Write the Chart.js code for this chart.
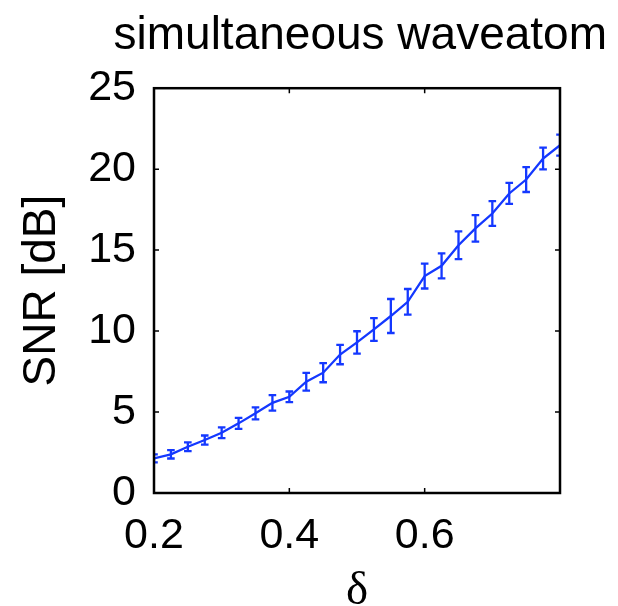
<!DOCTYPE html>
<html>
<head>
<meta charset="utf-8">
<script src="https://cdn.jsdelivr.net/npm/chart.js@4.4.1/dist/chart.umd.min.js"></script>
<style>
  body { margin: 0; background: #fff; }
  #wrap { width: 618px; height: 606px; }
</style>
</head>
<body>
<div id="wrap"><canvas id="snr" width="618" height="606"></canvas></div>
<script>
const delta = [0.2, 0.225, 0.25, 0.275, 0.3, 0.325, 0.35, 0.375, 0.4, 0.425, 0.45, 0.475,
               0.5, 0.525, 0.55, 0.575, 0.6, 0.625, 0.65, 0.675, 0.7, 0.725, 0.75, 0.775, 0.8]
const snr = [2.14, 2.39, 2.86, 3.27, 3.72, 4.30, 4.92, 5.57, 5.94, 6.87, 7.43, 8.55,
             9.30, 10.1, 10.93, 11.81, 13.4, 14.03, 15.3, 16.34, 17.26, 18.5, 19.36, 20.66, 21.48]
const snrErr = [0.25, 0.26, 0.27, 0.28, 0.33, 0.34, 0.37, 0.48, 0.33, 0.55, 0.59, 0.6,
                0.69, 0.7, 1.05, 0.79, 0.77, 0.77, 0.86, 0.82, 0.76, 0.65, 0.77, 0.67, 0.65]
const xTicks = [0.2, 0.4, 0.6]
const yTicks = [0, 5, 10, 15, 20, 25]

const blue = '#1438ff'

// matlab style box + inward ticks, and the error bars
const matlabAxes = {
  id: 'matlabAxes',
  afterDatasetsDraw(chart) {
    const ctx = chart.ctx
    const a = chart.chartArea
    const xs = chart.scales.x, ys = chart.scales.y
    ctx.save()
    ctx.beginPath()
    ctx.rect(a.left, a.top, a.right - a.left, a.bottom - a.top)
    ctx.clip()
    ctx.strokeStyle = blue
    ctx.lineWidth = 2.3
    for (let i = 0; i < delta.length; i++) {
      const x = xs.getPixelForValue(delta[i])
      const y0 = ys.getPixelForValue(snr[i] - snrErr[i])
      const y1 = ys.getPixelForValue(snr[i] + snrErr[i])
      ctx.beginPath()
      ctx.moveTo(x, y0); ctx.lineTo(x, y1)
      ctx.moveTo(x - 3.8, y0); ctx.lineTo(x + 3.8, y0)
      ctx.moveTo(x - 3.8, y1); ctx.lineTo(x + 3.8, y1)
      ctx.stroke()
    }
    ctx.restore()

    ctx.save()
    ctx.strokeStyle = '#000'
    ctx.lineWidth = 2.5
    ctx.strokeRect(a.left, a.top, a.right - a.left, a.bottom - a.top)
    ctx.lineWidth = 1.5
    ctx.beginPath()
    xTicks.forEach(v => {
      const x = xs.getPixelForValue(v)
      ctx.moveTo(x, a.bottom); ctx.lineTo(x, a.bottom - 5)
      ctx.moveTo(x, a.top); ctx.lineTo(x, a.top + 5)
    })
    yTicks.forEach(v => {
      const y = ys.getPixelForValue(v)
      ctx.moveTo(a.left, y); ctx.lineTo(a.left + 5, y)
      ctx.moveTo(a.right, y); ctx.lineTo(a.right - 5, y)
    })
    ctx.stroke()
    ctx.restore()
  }
}

const tickFont = { family: '"Liberation Sans", Arial, sans-serif', size: 43 }

new Chart(document.getElementById('snr'), {
  type: 'line',
  data: {
    datasets: [{
      data: delta.map((d, i) => ({ x: d, y: snr[i] })),
      borderColor: blue,
      borderWidth: 2.3,
      pointRadius: 0,
      tension: 0,
      fill: false
    }]
  },
  options: {
    responsive: false,
    animation: false,
    layout: { padding: { left: 0, right: 11, top: 0, bottom: 0 } },
    plugins: {
      legend: { display: false },
      tooltip: { enabled: false },
      title: {
        display: true,
        text: 'simultaneous waveatom',
        color: '#000',
        align: 'end',
        font: { family: '"Liberation Sans", Arial, sans-serif', size: 46, weight: 'normal', lineHeight: 1.2 },
        padding: { top: 9, bottom: 24 }
      }
    },
    scales: {
      x: {
        type: 'linear',
        min: 0.2,
        max: 0.8,
        grid: { display: false },
        border: { display: false },
        afterBuildTicks: s => { s.ticks = xTicks.map(v => ({ value: v })) },
        afterFit: s => { s.height = 113 },
        ticks: {
          color: '#000',
          font: tickFont,
          padding: 9,
          maxRotation: 0,
          callback: v => v.toFixed(1)
        },
        title: {
          display: true,
          text: 'δ',
          color: '#000',
          font: { family: '"Liberation Serif", "Times New Roman", serif', size: 47, lineHeight: 1 },
          padding: { top: 0, bottom: -9 }
        }
      },
      y: {
        min: 0,
        max: 25,
        grid: { display: false },
        border: { display: false },
        afterBuildTicks: s => { s.ticks = yTicks.map(v => ({ value: v })) },
        afterFit: s => { s.width = 154 },
        ticks: { color: '#000', font: tickFont, padding: 10 },
        title: {
          display: true,
          text: 'SNR [dB]',
          color: '#000',
          font: { family: '"Liberation Sans", Arial, sans-serif', size: 46, lineHeight: 1 },
          padding: { top: 19, bottom: 0 }
        }
      },
      // empty axis on the right, only keeps the plot box off the right edge
      yRight: {
        position: 'right',
        grid: { display: false },
        border: { display: false },
        ticks: { display: false },
        afterFit: s => { s.width = 47 }
      }
    }
  },
  plugins: [matlabAxes]
})
</script>
</body>
</html>
